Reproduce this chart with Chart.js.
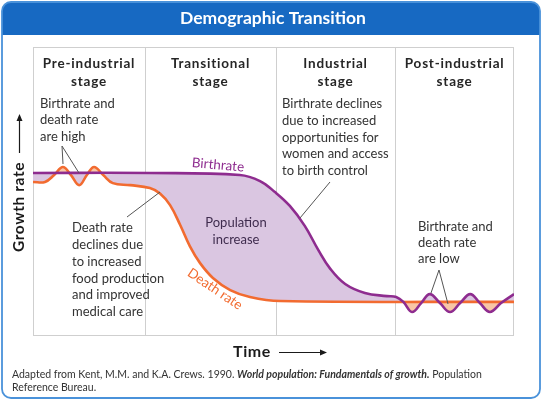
<!DOCTYPE html>
<html>
<head>
<meta charset="utf-8">
<script src="https://cdn.jsdelivr.net/npm/chart.js@4.4.4/dist/chart.umd.min.js"></script>
<style>
  html, body { margin: 0; padding: 0; background: #fff; }
  canvas { display: block; }
</style>
</head>
<body>
<canvas id="chart" width="543" height="400"></canvas>
<script>
// Time runs 0..100 across the four stages, growth rate 0..100 bottom to top.
const birthTime = [0, 24.3, 43.0, 47.2, 50.3, 53.4, 56.5, 59.3, 61.7, 64.9, 69.0, 73.6, 75.5, 77.0, 78.8, 80.7, 82.5, 84.6, 86.7, 88.8, 90.9, 92.9, 95.0, 97.3, 100];
const birthRate = [56.4, 56.4, 55.7, 53.6, 49.8, 45.0, 38.1, 29.8, 23.5, 18.0, 14.9, 13.8, 13.5, 11.8, 8.3, 11.4, 14.5, 11.4, 8.3, 11.4, 14.5, 11.4, 8.3, 11.4, 14.5];

const deathTime = [0, 2.5, 4.4, 6.2, 7.9, 9.6, 11.2, 12.7, 14.6, 16.6, 20.2, 24.3, 26.4, 28.5, 30.6, 32.6, 34.7, 37.4, 41.0, 45.1, 51.4, 100];
const deathRate = [53.3, 53.3, 55.7, 58.5, 55.7, 52.2, 55.7, 58.5, 55.7, 52.9, 52.2, 51.2, 49.3, 45.3, 38.4, 31.1, 25.3, 20.1, 15.9, 13.5, 12.1, 11.8];

const stageBounds = [0, 23.3, 50.5, 75.3, 100];
const stageNames = [
    ["Pre-industrial", "stage"],
    ["Transitional", "stage"],
    ["Industrial", "stage"],
    ["Post-industrial", "stage"],
];

const PURPLE = "#8e2c8f";
const ORANGE = "#f26b30";
const FONT = "Lato, 'Open Sans', sans-serif";

function toPoints(xs, ys) {
    return xs.map((x, i) => ({x: x, y: ys[i]}));
}

function line(ctx, x1, y1, x2, y2, color, width) {
    ctx.beginPath();
    ctx.moveTo(x1, y1);
    ctx.lineTo(x2, y2);
    ctx.strokeStyle = color;
    ctx.lineWidth = width;
    ctx.stroke();
}

function textLines(ctx, lines, x, y, step) {
    lines.forEach((t, i) => ctx.fillText(t, x, y + i * step));
}

// Frame, title bar, stage columns and headers under the curves.
const backdrop = {
    id: "backdrop",
    beforeDraw(chart) {
        const {ctx, chartArea: a, scales} = chart;
        ctx.save();
        ctx.fillStyle = "#fff";
        ctx.fillRect(0, 0, chart.width, chart.height);

        // outer rounded frame + blue title bar
        ctx.beginPath();
        ctx.roundRect(2, 2, 538, 396, 9);
        ctx.save();
        ctx.clip();
        ctx.fillStyle = "#1769c2";
        ctx.fillRect(0, 0, chart.width, 35);
        ctx.restore();
        ctx.strokeStyle = "#4a92da";
        ctx.lineWidth = 1.8;
        ctx.stroke();

        ctx.fillStyle = "#fff";
        ctx.font = "bold 17.5px " + FONT;
        ctx.textAlign = "center";
        ctx.textBaseline = "middle";
        ctx.fillText("Demographic Transition", 273, 18.5);

        // plot box and stage dividers
        ctx.strokeStyle = "#cfcfcf";
        ctx.lineWidth = 1;
        ctx.strokeRect(a.left + 0.5, a.top + 0.5, a.width - 1, a.height - 1);
        stageBounds.slice(1, -1).forEach(b => {
            const x = Math.round(scales.x.getPixelForValue(b)) + 0.5;
            line(ctx, x, a.top, x, a.bottom, "#cfcfcf", 1);
        });

        ctx.fillStyle = "#262626";
        ctx.font = "bold 13.5px " + FONT;
        ctx.letterSpacing = "0.8px";
        stageNames.forEach((name, i) => {
            const cx = (scales.x.getPixelForValue(stageBounds[i]) + scales.x.getPixelForValue(stageBounds[i + 1])) / 2;
            textLines(ctx, name, cx, 64, 18);
        });
        ctx.restore();
    },
};

// Notes, pointers, curve labels, axis titles and source line.
const notes = {
    id: "notes",
    afterDatasetsDraw(chart) {
        const ctx = chart.ctx;
        ctx.save();
        ctx.textBaseline = "middle";

        ctx.fillStyle = "#333";
        ctx.font = "13px " + FONT;
        ctx.textAlign = "left";
        textLines(ctx, ["Birthrate and", "death rate", "are high"], 40, 103.5, 16.7);
        textLines(ctx, ["Death rate", "declines due", "to increased", "food production", "and improved", "medical care"], 72, 228, 16.8);
        textLines(ctx, ["Birthrate declines", "due to increased", "opportunities for", "women and access", "to birth control"], 282, 104, 16.7);
        textLines(ctx, ["Birthrate and", "death rate", "are low"], 418, 227, 16);

        const grey = "#555";
        line(ctx, 62, 146, 63, 164, grey, 1);
        line(ctx, 62, 146, 79, 173, grey, 1);
        line(ctx, 127, 217, 160, 192, grey, 1);
        line(ctx, 330, 182, 300, 218, grey, 1);
        line(ctx, 439, 270, 431, 293, grey, 1);
        line(ctx, 439, 270, 448, 304, grey, 1);

        ctx.fillStyle = "#3f2c4e";
        ctx.textAlign = "center";
        textLines(ctx, ["Population", "increase"], 236, 223, 16.5);

        // curve labels
        ctx.font = "13.5px " + FONT;
        ctx.fillStyle = PURPLE;
        ctx.save();
        ctx.translate(218, 165);
        ctx.rotate(5 * Math.PI / 180);
        ctx.fillText("Birthrate", 0, 0);
        ctx.restore();

        ctx.fillStyle = ORANGE;
        ctx.save();
        ctx.translate(215, 289);
        ctx.rotate(34 * Math.PI / 180);
        ctx.fillText("Death rate", 0, 0);
        ctx.restore();

        // axis titles with arrows
        ctx.fillStyle = "#1a1a1a";
        ctx.font = "bold 15.5px " + FONT;
        ctx.letterSpacing = "0.6px";
        ctx.save();
        ctx.translate(19, 207);
        ctx.rotate(-Math.PI / 2);
        ctx.fillText("Growth rate", 0, 0);
        ctx.restore();
        line(ctx, 19.5, 153, 19.5, 119, "#1a1a1a", 1.2);
        ctx.beginPath();
        ctx.moveTo(19.5, 114);
        ctx.lineTo(16.5, 121);
        ctx.lineTo(22.5, 121);
        ctx.closePath();
        ctx.fill();

        ctx.font = "bold 16px " + FONT;
        ctx.fillText("Time", 252, 352);
        line(ctx, 279, 352.5, 322, 352.5, "#1a1a1a", 1.2);
        ctx.beginPath();
        ctx.moveTo(327, 352.5);
        ctx.lineTo(320, 349.5);
        ctx.lineTo(320, 355.5);
        ctx.closePath();
        ctx.fill();
        ctx.letterSpacing = "0px";

        // source line
        ctx.textAlign = "left";
        ctx.fillStyle = "#333";
        const parts = [
            ["10.5px " + FONT, "Adapted from Kent, M.M. and K.A. Crews. 1990. "],
            ["italic bold 10.5px " + FONT, "World population: Fundamentals of growth."],
            ["10.5px " + FONT, " Population"],
        ];
        let x = 12;
        parts.forEach(([f, t]) => {
            ctx.font = f;
            ctx.fillText(t, x, 375);
            x += ctx.measureText(t).width;
        });
        ctx.font = "10.5px " + FONT;
        ctx.fillText("Reference Bureau.", 12, 388);
        ctx.restore();
    },
};

new Chart(document.getElementById("chart"), {
    type: "line",
    data: {
        datasets: [
            {
                label: "Birthrate",
                data: toPoints(birthTime, birthRate),
                borderColor: PURPLE,
                borderWidth: 2.6,
                pointRadius: 0,
                tension: 0.4,
                fill: {target: 1, above: "#dac6e1", below: "#f8c6a6"},
            },
            {
                label: "Death rate",
                data: toPoints(deathTime, deathRate),
                borderColor: ORANGE,
                borderWidth: 2.6,
                pointRadius: 0,
                tension: 0.4,
                fill: false,
            },
        ],
    },
    options: {
        responsive: false,
        animation: false,
        layout: {padding: {left: 33, right: 29, top: 47, bottom: 64}},
        scales: {
            x: {type: "linear", min: 0, max: 100, display: false},
            y: {min: 0, max: 100, display: false},
        },
        plugins: {
            legend: {display: false},
            tooltip: {enabled: false},
            filler: {drawTime: "beforeDatasetsDraw"},
        },
    },
    plugins: [backdrop, notes],
});
</script>
</body>
</html>
